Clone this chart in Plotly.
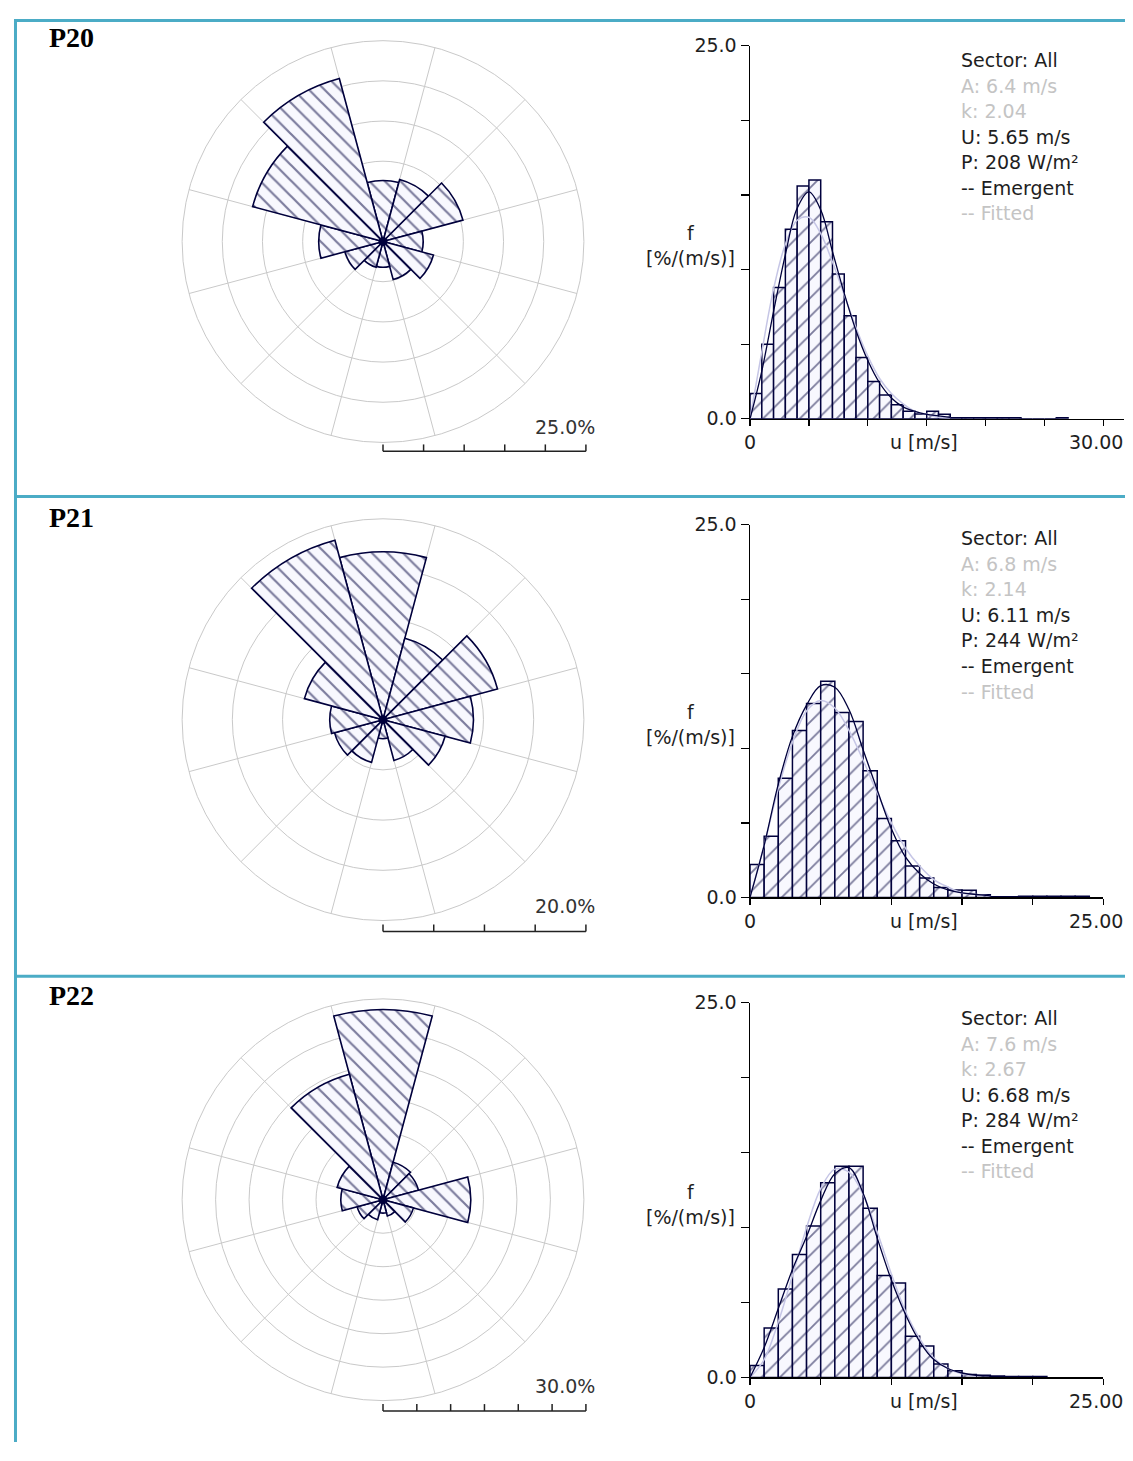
import plotly.graph_objects as go

# ---------------- data ----------------
site_labels = ["P20", "P21", "P22"]
sector_dirs = [0, 30, 60, 90, 120, 150, 180, 210, 240, 270, 300, 330]

rose_p20 = [7.6, 8.0, 10.3, 5.0, 6.5, 4.9, 3.2, 3.3, 4.9, 8.0, 16.8, 21.0]
rose_p21 = [16.7, 8.4, 11.8, 9.0, 6.4, 4.2, 1.9, 4.4, 5.0, 5.3, 8.1, 18.5]
rose_p22 = [28.4, 5.8, 5.5, 13.1, 4.7, 2.5, 2.0, 3.1, 4.0, 6.3, 7.1, 19.4]
rose_max = [25, 20, 30]
rose_scale_text = ["25.0%", "20.0%", "30.0%"]

# frequency per 1 m/s bin, starting at 0 m/s  [%/(m/s)]
hist_p20 = [1.7, 5.0, 8.8, 12.7, 15.6, 16.0, 13.2, 9.7, 6.9, 4.1, 2.5, 1.6, 0.95,
            0.5, 0.33, 0.5, 0.3, 0.07, 0.07, 0.07, 0.07, 0.07, 0.07, 0.0, 0.0, 0.0, 0.07]
hist_p21 = [2.2, 4.1, 8.0, 11.2, 13.0, 14.5, 12.4, 11.8, 8.5, 5.3, 3.8, 2.1, 1.3,
            0.66, 0.5, 0.48, 0.18, 0.05, 0.05, 0.07, 0.07, 0.07, 0.07, 0.07]
hist_p22 = [0.8, 3.3, 5.9, 8.2, 10.1, 13.0, 14.1, 14.1, 11.3, 6.8, 6.3, 2.75, 2.1,
            0.9, 0.45, 0.2, 0.15, 0.1, 0.07, 0.07, 0.07]

# curves sampled at integer wind speeds 0,1,2,... m/s
emergent_p20 = [0.0, 3.2, 7.2, 11.0, 14.1, 15.2, 14.0, 11.2, 8.4, 5.9, 3.9, 2.4, 1.4, 0.8, 0.5, 0.3, 0.2, 0.1]
emergent_p21 = [0.0, 3.5, 7.6, 10.8, 12.9, 14.2, 14.1, 12.6, 9.9, 7.2, 4.6, 2.7, 1.6, 0.9, 0.5, 0.3, 0.2, 0.1]
emergent_p22 = [0.0, 2.0, 4.6, 7.2, 9.4, 11.8, 13.6, 14.0, 12.3, 9.3, 6.5, 4.2, 2.4, 1.2, 0.6, 0.3, 0.15, 0.1]
fitted_p20 = [0.0, 4.5, 8.7, 11.7, 13.3, 13.5, 12.4, 10.5, 8.3, 6.1, 4.2, 2.7, 1.7, 1.0, 0.5, 0.3, 0.1, 0.05]
fitted_p21 = [0.0, 3.5, 7.3, 10.4, 12.5, 13.2, 12.7, 11.2, 9.2, 7.0, 5.0, 3.3, 2.1, 1.2, 0.7, 0.3, 0.2, 0.1]
fitted_p22 = [0.0, 1.2, 3.7, 6.8, 10.0, 12.6, 13.9, 13.7, 12.2, 9.7, 6.9, 4.4, 2.6, 1.3, 0.6, 0.24, 0.08]

speed_axis_max = [30, 25, 25]
speed_end_labels = ["30.00", "25.00", "25.00"]
freq_axis_max = 25
freq_ticks = [0, 5, 10, 15, 20, 25]
freq_tick_text = ["0.0", "", "", "", "", "25.0"]

sector_text = "Sector: All"
weibull_A = ["6.4", "6.8", "7.6"]
weibull_k = ["2.04", "2.14", "2.67"]
mean_U = ["5.65", "6.11", "6.68"]
power_P = ["208", "244", "284"]

roses = [rose_p20, rose_p21, rose_p22]
hists = [hist_p20, hist_p21, hist_p22]
emergents = [emergent_p20, emergent_p21, emergent_p22]
fitteds = [fitted_p20, fitted_p21, fitted_p22]

# ---------------- layout geometry (page pixels) ----------------
# the page keeps the browser's 8px body margin: figure spans page 8..1125 x 8..1453
W, H = 1117, 1445
OX, OY = 8, 8


def px(x):
    return (x - OX) / W


def py(y):
    return 1 - (y - OY) / H


NAVY = "#00003c"
FILL = "#f8f8fe"
GRID = "#c9c9c9"
BLUE = "#4bacc6"
TXT = "#1e1e1e"
GREY_TXT = "#c4c4c4"
FONT = "DejaVu Sans"

rose_cx = 379
rose_cy = [234, 719.5, 1207]
rose_R = 204
hist_x0 = 748
hist_top = [35, 521.5, 1007]
hist_bot = [414, 900, 1387.5]
hist_xend_tick = 1103.3
page_right = OX + W - 1
text_y0 = [50, 535.5, 1022.5]
line_step = 25.9
label_y = [27, 514, 1000]
scale_bar_y = [447, 934.5, 1421.5]
scale_text_y = [422, 908.5, 1396]
separators = [493, 980]

fig = go.Figure()
layout = dict(
    width=W, height=H, margin=dict(l=0, r=0, t=0, b=0),
    paper_bgcolor="white", plot_bgcolor="white", showlegend=False,
    font=dict(family=FONT, size=19, color=TXT), bargap=0,
)
annotations = []
shapes = []

sector_width = 360 / len(sector_dirs)

for i in range(3):
    # ---------- wind rose ----------
    pk = "polar" if i == 0 else f"polar{i + 1}"
    fig.add_trace(go.Barpolar(
        r=roses[i], theta=sector_dirs, width=[sector_width] * len(sector_dirs),
        subplot=pk,
        marker=dict(color=FILL, line=dict(color=NAVY, width=1.6),
                    pattern=dict(shape="\\", fgcolor=NAVY, bgcolor=FILL, size=11, solidity=0.2)),
        hoverinfo="skip",
    ))
    fig.add_trace(go.Scatterpolar(r=[0], theta=[0], mode="markers", subplot=pk,
                                  marker=dict(size=9, color=NAVY), hoverinfo="skip"))
    cy = rose_cy[i]
    rmax = rose_max[i]
    layout[pk] = dict(
        domain=dict(x=[px(rose_cx - rose_R), px(rose_cx + rose_R)],
                    y=[py(cy + rose_R), py(cy - rose_R)]),
        bgcolor="white",
        angularaxis=dict(direction="clockwise", rotation=90,
                         tickvals=[d + sector_width / 2 for d in sector_dirs],
                         showticklabels=False, ticks="", gridcolor=GRID, gridwidth=1,
                         showline=True, linecolor=GRID, linewidth=1),
        radialaxis=dict(range=[0, rmax], tickvals=list(range(5, rmax + 1, 5)),
                        showticklabels=False, ticks="", showline=False,
                        gridcolor=GRID, gridwidth=1),
    )
    # scale bar
    yb = scale_bar_y[i]
    nseg = rmax // 5
    shapes.append(dict(type="line", xref="paper", yref="paper",
                       x0=px(rose_cx), x1=px(rose_cx + rose_R), y0=py(yb), y1=py(yb),
                       line=dict(color="#222222", width=1.5)))
    for s in range(nseg + 1):
        xs = rose_cx + rose_R * s / nseg
        shapes.append(dict(type="line", xref="paper", yref="paper",
                           x0=px(xs), x1=px(xs), y0=py(yb), y1=py(yb - 7),
                           line=dict(color="#222222", width=1.5)))
    annotations.append(dict(text=rose_scale_text[i], x=px(594), y=py(scale_text_y[i]),
                            xref="paper", yref="paper", xanchor="right", yanchor="middle",
                            showarrow=False, font=dict(size=19, color="#333333")))

    # ---------- histogram ----------
    xa = "x" if i == 0 else f"x{i + 1}"
    ya = "y" if i == 0 else f"y{i + 1}"
    h = hists[i]
    fig.add_trace(go.Bar(
        x=[k + 0.5 for k in range(len(h))], y=h, width=1, xaxis=xa, yaxis=ya,
        marker=dict(color=FILL, line=dict(color=NAVY, width=1.5),
                    pattern=dict(shape="/", fgcolor=NAVY, bgcolor=FILL, size=13, solidity=0.14)),
        hoverinfo="skip",
    ))
    fig.add_trace(go.Scatter(x=list(range(len(fitteds[i]))), y=fitteds[i], mode="lines",
                             xaxis=xa, yaxis=ya, hoverinfo="skip",
                             line=dict(color="#c6c6e6", width=1.5, shape="spline")))
    fig.add_trace(go.Scatter(x=list(range(len(emergents[i]))), y=emergents[i], mode="lines",
                             xaxis=xa, yaxis=ya, hoverinfo="skip",
                             line=dict(color=NAVY, width=1.3, shape="spline")))

    smax = speed_axis_max[i]
    ppu = (hist_xend_tick - hist_x0) / smax
    x_end_px = page_right if i == 0 else hist_xend_tick
    rng_max = (x_end_px - hist_x0) / ppu
    tv = list(range(0, smax + 1, 5))
    tt = ["0"] + [""] * (len(tv) - 1)
    xk = "xaxis" if i == 0 else f"xaxis{i + 1}"
    yk = "yaxis" if i == 0 else f"yaxis{i + 1}"
    layout[xk] = dict(domain=[px(hist_x0), px(x_end_px)], range=[0, rng_max], anchor=ya,
                      showline=True, linecolor="black", linewidth=1.5,
                      ticks="outside", ticklen=6, tickwidth=1.3, tickcolor="black",
                      tickvals=tv, ticktext=tt, showgrid=False, zeroline=False,
                      tickfont=dict(size=19, color=TXT), fixedrange=True)
    layout[yk] = dict(domain=[py(hist_bot[i]), py(hist_top[i])], range=[0, freq_axis_max],
                      anchor=xa, showline=True, linecolor="black", linewidth=1.5,
                      ticks="outside", ticklen=8, tickwidth=1.3, tickcolor="black",
                      tickvals=freq_ticks, ticktext=freq_tick_text, showgrid=False,
                      zeroline=False, tickfont=dict(size=19, color=TXT), fixedrange=True)

    off = hist_bot[i] - hist_bot[0]
    annotations.append(dict(text="u [m/s]", x=px(923), y=py(438 + off), xref="paper", yref="paper",
                            xanchor="center", yanchor="middle", showarrow=False,
                            font=dict(size=19, color=TXT)))
    # end label of the speed axis (kept inside the figure's right edge)
    annotations.append(dict(text=speed_end_labels[i], x=px(page_right), y=py(438 + off),
                            xref="paper", yref="paper", xanchor="right", yanchor="middle",
                            showarrow=False, borderpad=0, font=dict(size=19, color=TXT)))
    annotations.append(dict(text="f<br>[%/(m/s)]", x=px(688), y=py(238 + off), xref="paper",
                            yref="paper", xanchor="center", yanchor="middle", align="center",
                            showarrow=False, font=dict(size=19, color=TXT)))

    lines = [
        (sector_text, TXT),
        (f"A: {weibull_A[i]} m/s", GREY_TXT),
        (f"k: {weibull_k[i]}", GREY_TXT),
        (f"U: {mean_U[i]} m/s", TXT),
        (f"P: {power_P[i]} W/m²", TXT),
        ("-- Emergent", TXT),
        ("-- Fitted", GREY_TXT),
    ]
    for j, (t, c) in enumerate(lines):
        annotations.append(dict(text=t, x=px(958), y=py(text_y0[i] + j * line_step),
                                xref="paper", yref="paper", xanchor="left", yanchor="middle",
                                showarrow=False, font=dict(size=19, color=c)))

    annotations.append(dict(text=f"<b>{site_labels[i]}</b>", x=px(41), y=py(label_y[i]),
                            xref="paper", yref="paper", xanchor="left", yanchor="middle",
                            showarrow=False,
                            font=dict(family="Liberation Serif", size=28, color="black")))

# table borders
shapes.append(dict(type="line", xref="paper", yref="paper", x0=0, x1=1, y0=py(9.5), y1=py(9.5),
                   line=dict(color=BLUE, width=3)))
shapes.append(dict(type="line", xref="paper", yref="paper", x0=px(9.5), x1=px(9.5), y0=0, y1=1,
                   line=dict(color=BLUE, width=3)))
for ys in separators:
    shapes.append(dict(type="line", xref="paper", yref="paper", x0=0, x1=1, y0=py(ys), y1=py(ys),
                       line=dict(color=BLUE, width=3)))

layout["annotations"] = annotations
layout["shapes"] = shapes
fig.update_layout(**layout)

fig.write_html("out.html", config={"displayModeBar": False, "staticPlot": True})
